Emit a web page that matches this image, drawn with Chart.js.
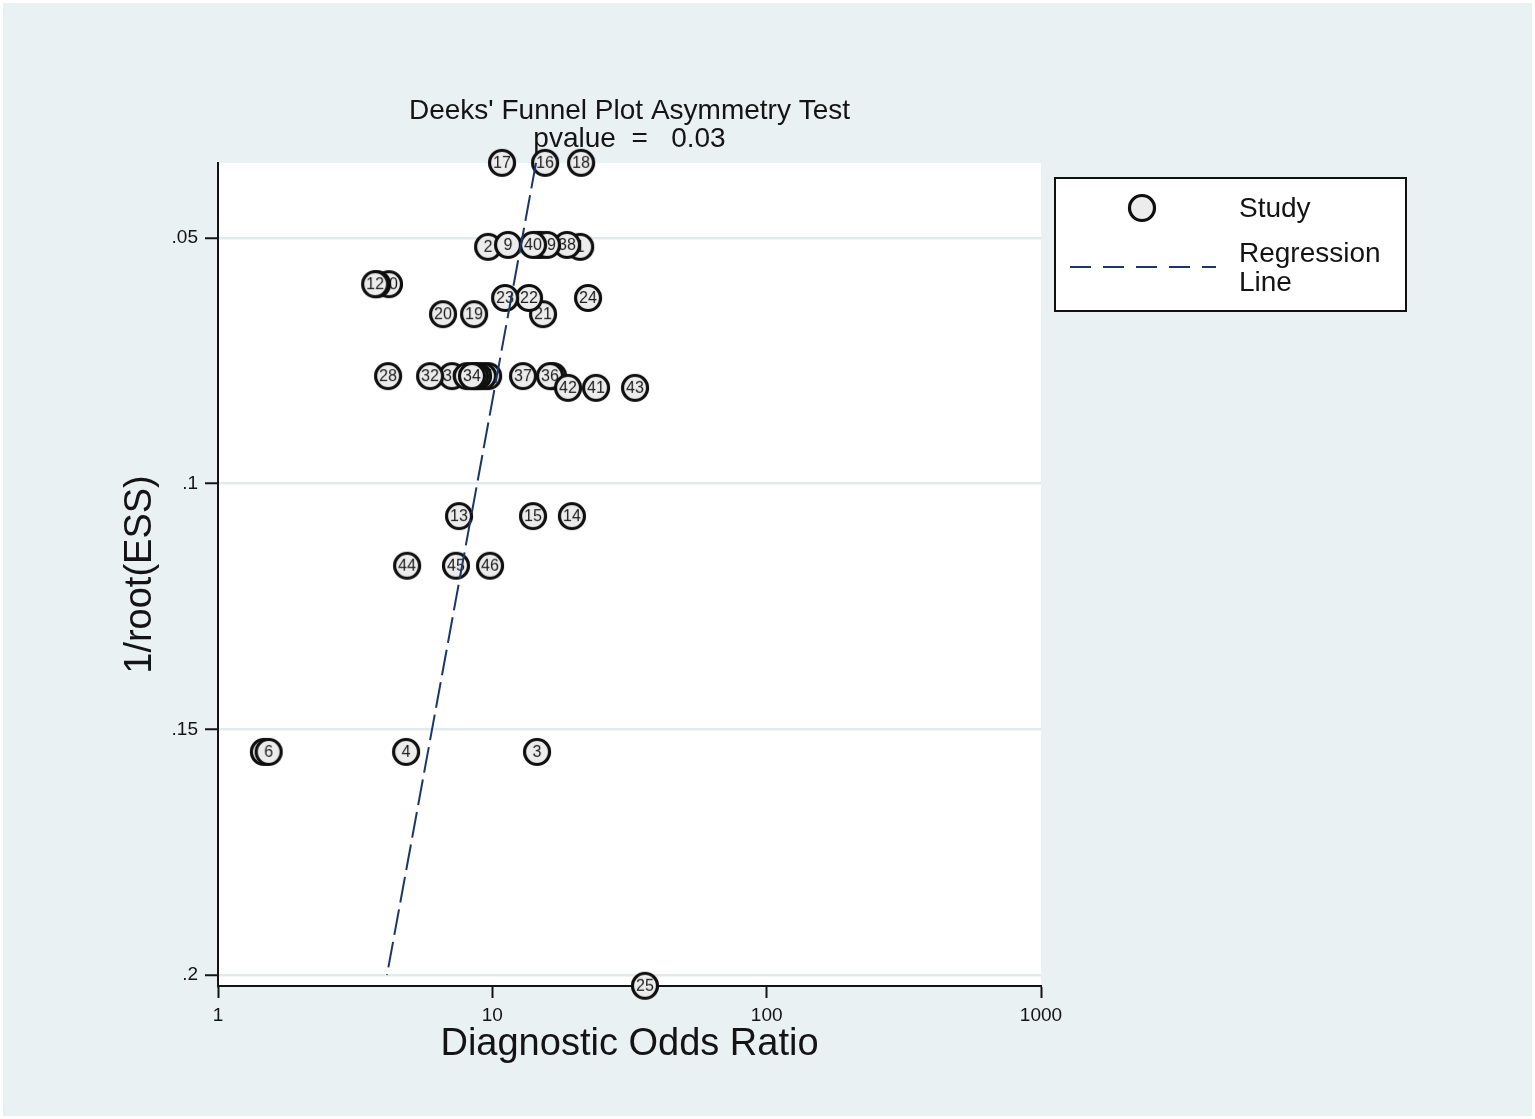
<!DOCTYPE html>
<html lang="en">
<head>
<meta charset="UTF-8">
<title>Deeks' Funnel Plot Asymmetry Test</title>
<style>
  html, body { margin: 0; padding: 0; background: #ffffff; }
  .wrap { width: 1535px; height: 1119px; }
</style>
<script src="https://cdn.jsdelivr.net/npm/chart.js"></script>
</head>
<body>
<div class="wrap"><canvas id="funnel" width="1535" height="1119"></canvas></div>
<script>
  // studies: id, diagnostic odds ratio, 1/root(ESS)
  const studyIds = [1, 2, 3, 4, 5, 6, 7, 8, 9, 10,
                    11, 12, 13, 14, 15, 16, 17, 18, 19, 20,
                    21, 22, 23, 24, 25, 26, 27, 28, 29, 30,
                    31, 32, 33, 34, 35, 36, 37, 38, 39, 40,
                    41, 42, 43, 44, 45, 46];
  const studyDOR = [20.9, 9.65, 14.55, 4.85, 1.47, 1.53, 14.55, 15.05, 11.41, 4.20,
                    3.80, 3.74, 7.56, 19.5, 14.07, 15.57, 10.85, 21.06, 8.58, 6.61,
                    15.30, 13.61, 11.13, 22.33, 36.0, 9.65, 9.25, 4.17, 8.87, 7.13,
                    8.65, 5.93, 8.08, 8.43, 16.65, 16.23, 12.94, 18.72, 15.83, 14.07,
                    23.88, 18.88, 33.13, 4.89, 7.37, 9.81];
  const studyInvRootESS = [0.0518, 0.0518, 0.1546, 0.1546, 0.1546, 0.1546, 0.0514, 0.0514, 0.0514, 0.0594,
                           0.0594, 0.0594, 0.1066, 0.1066, 0.1066, 0.0347, 0.0347, 0.0347, 0.0655, 0.0655,
                           0.0655, 0.0622, 0.0622, 0.0622, 0.2022, 0.0781, 0.0781, 0.0781, 0.0781, 0.0781,
                           0.0781, 0.0781, 0.0781, 0.0781, 0.0781, 0.0781, 0.0781, 0.0514, 0.0514, 0.0514,
                           0.0805, 0.0805, 0.0805, 0.1167, 0.1167, 0.1167];

  // regression line end points
  const regressionDOR = [14.43, 4.13];
  const regressionInvRootESS = [0.0347, 0.2];

  const yTickValues = [0.05, 0.1, 0.15, 0.2];
  const yTickLabels = ['.05', '.1', '.15', '.2'];
  const xTickValues = [1, 10, 100, 1000];
  const xTickLabels = ['1', '10', '100', '1000'];
  const titleLines = ["Deeks' Funnel Plot Asymmetry Test", "pvalue  =   0.03"];

  const FONT = '"Liberation Sans", Arial, Helvetica, sans-serif';
  const INK = '#141414';
  const NAVY = '#1b3768';
  const PAD = { left: 110, right: 494, top: 163, bottom: 45 };

  Chart.defaults.font.family = FONT;
  Chart.defaults.color = INK;

  // circle marker with the study number inside
  function makeMarker(label) {
    const c = document.createElement('canvas');
    c.width = 34; c.height = 34;
    const g = c.getContext('2d');
    g.beginPath();
    g.arc(17, 17, 12.5, 0, Math.PI * 2);
    g.fillStyle = '#ececec';
    g.fill();
    g.lineWidth = 3.2;
    g.strokeStyle = '#0f0f0f';
    g.stroke();
    if (label) {
      g.fillStyle = '#1c1c1c';
      g.font = '16px ' + FONT;
      g.textAlign = 'center';
      g.textBaseline = 'middle';
      g.fillText(label, 17, 18);
    }
    return c;
  }

  const studyPoints = studyIds.map((id, i) => ({ x: studyDOR[i], y: studyInvRootESS[i] }));
  const studyMarkers = studyIds.map(id => makeMarker(String(id)));
  const regressionPoints = regressionDOR.map((v, i) => ({ x: v, y: regressionInvRootESS[i] }));

  const background = {
    id: 'background',
    beforeDraw(chart) {
      const ctx = chart.ctx, a = chart.chartArea;
      ctx.save();
      ctx.fillStyle = '#ffffff';
      ctx.fillRect(0, 0, chart.width, chart.height);
      ctx.fillStyle = '#eaf1f3';
      ctx.fillRect(3, 3, chart.width - 6, chart.height - 6);
      ctx.fillStyle = '#ffffff';
      ctx.fillRect(a.left, a.top, a.right - a.left, a.bottom - a.top);
      ctx.restore();
    }
  };

  const titleAndLegend = {
    id: 'titleAndLegend',
    afterDraw(chart) {
      const ctx = chart.ctx, a = chart.chartArea;
      ctx.save();
      // title
      ctx.fillStyle = INK;
      ctx.font = '28px ' + FONT;
      ctx.textAlign = 'center';
      ctx.textBaseline = 'middle';
      const cx = (a.left + a.right) / 2;
      ctx.fillText(titleLines[0], cx, a.top - 52);
      ctx.fillText(titleLines[1], cx, a.top - 24);

      // legend box
      const bx = 1055, by = 178, bw = 351, bh = 133;
      ctx.fillStyle = '#ffffff';
      ctx.fillRect(bx, by, bw, bh);
      ctx.lineWidth = 2;
      ctx.strokeStyle = '#111111';
      ctx.strokeRect(bx, by, bw, bh);

      const m = makeMarker('');
      ctx.drawImage(m, 1142 - 17, 208 - 17);

      ctx.beginPath();
      ctx.setLineDash([21, 12]);
      ctx.lineWidth = 2;
      ctx.strokeStyle = NAVY;
      ctx.moveTo(1070, 267);
      ctx.lineTo(1216, 267);
      ctx.stroke();
      ctx.setLineDash([]);

      ctx.fillStyle = INK;
      ctx.font = '28px ' + FONT;
      ctx.textAlign = 'left';
      ctx.fillText('Study', 1239, 209);
      ctx.fillText('Regression', 1239, 254);
      ctx.fillText('Line', 1239, 283);
      ctx.restore();
    }
  };

  new Chart(document.getElementById('funnel'), {
    type: 'scatter',
    data: {
      datasets: [
        {
          label: 'Regression Line',
          data: regressionPoints,
          showLine: true,
          borderColor: NAVY,
          borderWidth: 2,
          borderDash: [26, 7],
          pointRadius: 0,
          fill: false,
          order: 0,
          clip: false
        },
        {
          label: 'Study',
          data: studyPoints,
          pointStyle: studyMarkers,
          pointRadius: 14,
          order: 1,
          clip: false
        }
      ]
    },
    options: {
      responsive: false,
      animation: false,
      events: [],
      layout: { padding: PAD },
      plugins: {
        legend: { display: false },
        tooltip: { enabled: false },
        title: { display: false }
      },
      scales: {
        x: {
          type: 'logarithmic',
          min: 1,
          max: 1000,
          afterBuildTicks: s => { s.ticks = xTickValues.map(v => ({ value: v })); },
          afterFit: s => { s.height = 1119 - 986 - PAD.bottom; },
          ticks: {
            callback: (v, i) => xTickLabels[i],
            font: { size: 19 },
            color: INK,
            padding: 6,
            maxRotation: 0,
            autoSkip: false
          },
          grid: {
            drawOnChartArea: false,
            drawTicks: true,
            tickLength: 12,
            tickColor: INK,
            tickWidth: 2
          },
          border: { display: true, color: INK, width: 2 },
          title: {
            display: true,
            text: 'Diagnostic Odds Ratio',
            font: { size: 38 },
            color: INK,
            padding: { top: 0, bottom: 7 }
          }
        },
        y: {
          type: 'linear',
          reverse: true,
          min: 0.034735,
          max: 0.20224,
          afterBuildTicks: s => { s.ticks = yTickValues.map(v => ({ value: v })); },
          afterFit: s => { s.width = 218 - PAD.left; },
          ticks: {
            callback: (v, i) => yTickLabels[i],
            font: { size: 19 },
            color: INK,
            padding: 7
          },
          grid: {
            color: '#e2eaed',
            lineWidth: 2.5,
            drawTicks: true,
            tickLength: 13,
            tickColor: INK,
            tickWidth: 2
          },
          border: { display: true, color: INK, width: 2 },
          title: {
            display: true,
            text: '1/root(ESS)',
            font: { size: 38 },
            color: INK,
            padding: { top: 8, bottom: 0 }
          }
        }
      }
    },
    plugins: [background, titleAndLegend]
  });
</script>
</body>
</html>
